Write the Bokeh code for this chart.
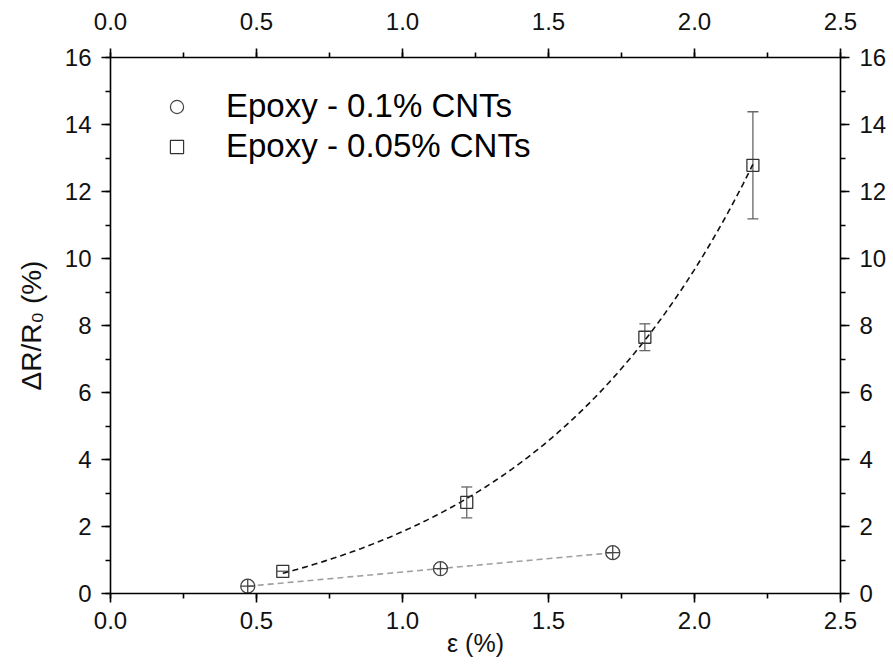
import numpy as np
from bokeh.plotting import figure
from bokeh.models import (LinearAxis, FixedTicker, NumeralTickFormatter, Range1d,
                          Whisker, TeeHead, ColumnDataSource, Legend, LegendItem)
from bokeh.embed import file_html
from bokeh.resources import INLINE

# ---- data ----
x_01 = [0.47, 1.13, 1.72]
y_01 = [0.22, 0.74, 1.22]
x_005 = [0.59, 1.22, 1.83, 2.20]
y_005 = [0.66, 2.72, 7.65, 12.78]
err_005 = [0.0, 0.46, 0.40, 1.60]
label_01 = "Epoxy - 0.1% CNTs"
label_005 = "Epoxy - 0.05% CNTs"
x_ticks = [0.0, 0.5, 1.0, 1.5, 2.0, 2.5]
y_ticks = [0, 2, 4, 6, 8, 10, 12, 14, 16]
x_title = "ε (%)"
y_title = "ΔR/R₀ (%)"

# ---- fits ----
xa = np.array(x_005); ya = np.array(y_005)
best = None
for B in np.linspace(0.5, 4.0, 701):
    M = np.column_stack([np.ones_like(xa), np.exp(B * xa)])
    coef, *_ = np.linalg.lstsq(M, ya, rcond=None)
    r = np.sum((M @ coef - ya) ** 2)
    if best is None or r < best[0]:
        best = (r, B, coef)
_, B, coef = best
xf1 = np.linspace(xa.min(), xa.max(), 200)
yf1 = coef[0] + coef[1] * np.exp(B * xf1)

xb = np.array(x_01); yb = np.array(y_01)
lin = np.polyfit(xb, yb, 1)
xf2 = np.linspace(xb.min(), xb.max(), 50)
yf2 = np.polyval(lin, xf2)

FONT = "Liberation Sans"

p = figure(frame_width=730, frame_height=536,
           min_border_left=110, min_border_right=53,
           min_border_top=57, min_border_bottom=71,
           x_range=Range1d(0, 2.5), y_range=Range1d(0, 16),
           output_backend="svg", toolbar_location=None,
           background_fill_color="white", border_fill_color="white")
p.outline_line_color = None
p.xgrid.visible = False
p.ygrid.visible = False

p.add_layout(LinearAxis(), "above")
p.add_layout(LinearAxis(), "right")

for ax in p.xaxis:
    ax.ticker = FixedTicker(ticks=x_ticks, minor_ticks=list(np.arange(0, 2.51, 0.25)))
    ax.formatter = NumeralTickFormatter(format="0.0")
for ax in p.yaxis:
    ax.ticker = FixedTicker(ticks=y_ticks, minor_ticks=list(range(0, 17)))
    ax.formatter = NumeralTickFormatter(format="0")
    ax.major_label_standoff = 10
p.below[0].major_label_standoff = 9
p.above[0].major_label_standoff = 19
for ax in list(p.xaxis) + list(p.yaxis):
    ax.axis_line_width = 1.6
    ax.axis_line_color = "black"
    ax.major_tick_line_width = 1.6
    ax.minor_tick_line_width = 1.6
    ax.major_tick_out = 9
    ax.major_tick_in = 0
    ax.minor_tick_out = 5
    ax.minor_tick_in = 0
    ax.major_label_text_font = FONT
    ax.major_label_text_font_size = "24px"
    ax.major_label_text_color = "#111111"
    ax.axis_label_text_font = FONT
    ax.axis_label_text_font_style = "normal"
    ax.axis_label_text_color = "#111111"

p.below[0].axis_label = x_title
p.below[0].axis_label_text_font_size = "25px"
p.below[0].axis_label_standoff = -3
p.left[0].axis_label = y_title
p.left[0].axis_label_text_font_size = "28px"
p.left[0].axis_label_standoff = 15

# fits
p.line(xf2, yf2, line_color="#a0a0a0", line_dash="6 4", line_width=1.6)
p.line(xf1, yf1, line_color="#111111", line_dash="6 4", line_width=1.6)

# error bars
src = ColumnDataSource(dict(x=x_005, y=y_005,
                            lo=[a - e for a, e in zip(y_005, err_005)],
                            hi=[a + e for a, e in zip(y_005, err_005)]))
w = Whisker(source=src, base="x", upper="hi", lower="lo",
            line_color="#666666", line_width=1.3,
            upper_head=TeeHead(size=11, line_color="#666666", line_width=1.3),
            lower_head=TeeHead(size=11, line_color="#666666", line_width=1.3))
p.add_layout(w)

p.scatter(x_01, y_01, marker="circle_cross", size=14, fill_color="white",
          fill_alpha=0.0, line_color="#444444", line_width=1.3)
p.scatter("x", "y", source=src, marker="square", size=12, fill_color="white",
          fill_alpha=0.0, line_color="#333333", line_width=1.3)

# legend proxies
lc = p.scatter([np.nan], [np.nan], marker="circle", size=12, fill_color="white",
               line_color="#444444", line_width=1.2)
ls = p.scatter([np.nan], [np.nan], marker="square", size=11, fill_color="white",
               line_color="#333333", line_width=1.2)
leg = Legend(items=[LegendItem(label=label_01, renderers=[lc]),
                    LegendItem(label=label_005, renderers=[ls])],
             location=(50, 428), glyph_width=33, glyph_height=33,
             label_height=33, label_standoff=33, spacing=2, padding=0,
             margin=0, border_line_color=None, background_fill_alpha=0,
             label_text_font=FONT, label_text_font_size="33px",
             label_text_color="black")
p.add_layout(leg)

open("out.html", "w").write(file_html(p, INLINE))
